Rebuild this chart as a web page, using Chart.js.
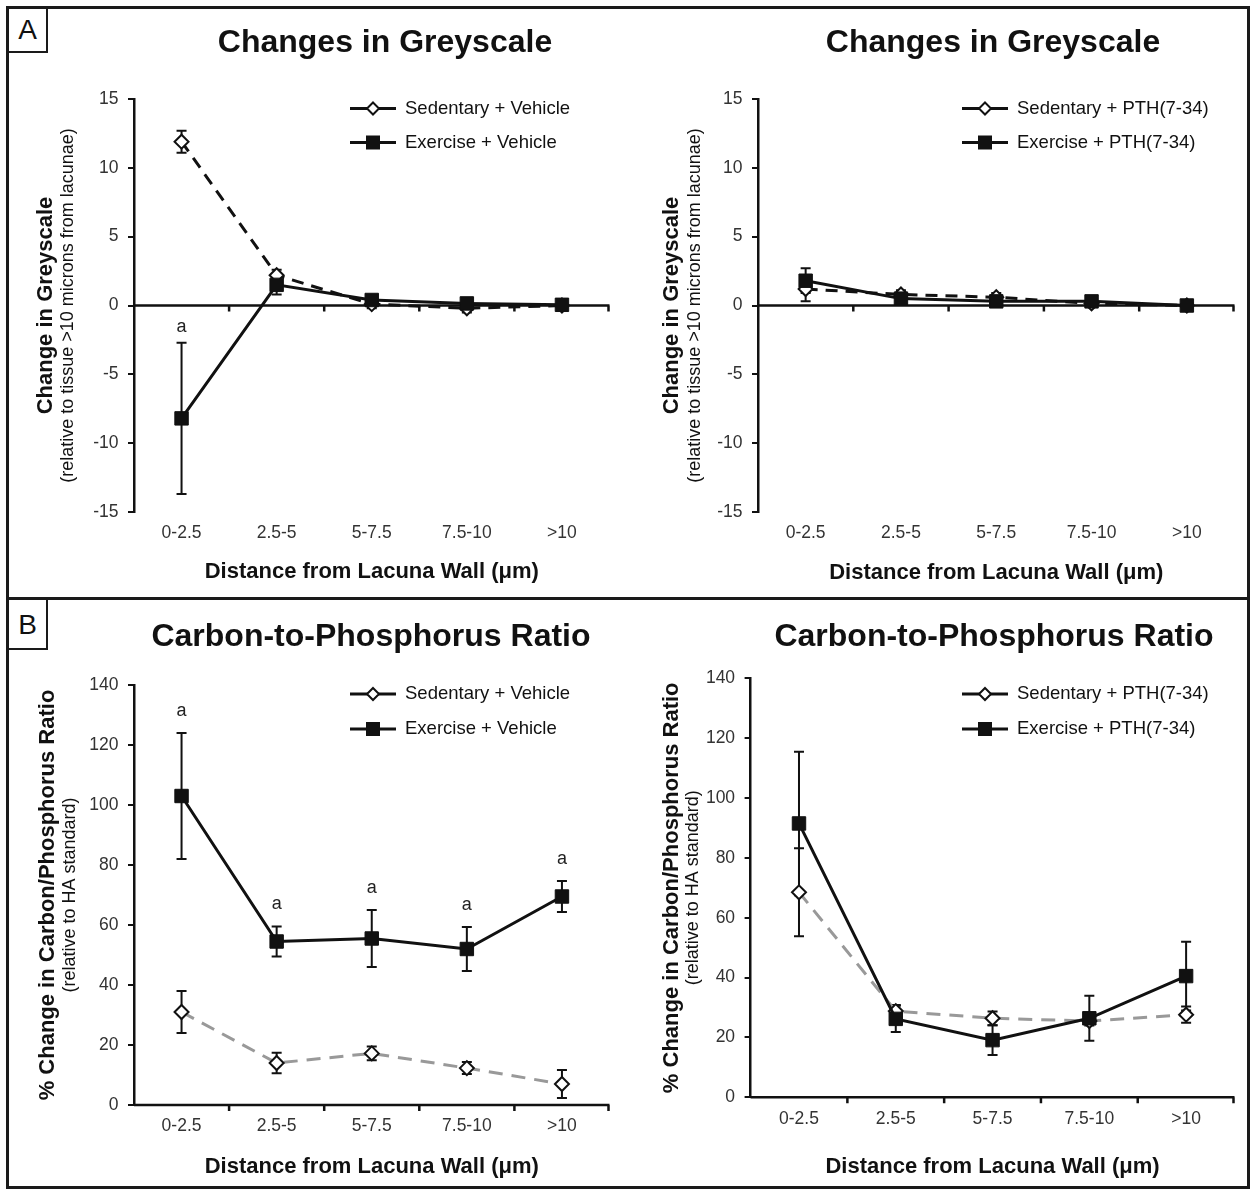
<!DOCTYPE html>
<html>
<head>
<meta charset="utf-8">
<script src="https://cdn.jsdelivr.net/npm/chart.js"></script>
<style>
  body { margin: 0; background: #fff; }
  #figure { position: relative; width: 1253px; height: 1190px; background: #fff; font-family: 'Liberation Sans', Arial, sans-serif; color: #111; }
  .frame { position: absolute; left: 6px; top: 6px; width: 1238px; height: 1177px; border: 3px solid #1a1a1a; }
  .divider { position: absolute; left: 6px; top: 597px; width: 1244px; height: 3px; background: #1a1a1a; }
  .tag { position: absolute; left: 9px; width: 37px; border-right: 2.5px solid #1a1a1a; border-bottom: 2.5px solid #1a1a1a; font-size: 28px; text-align: center; }
  canvas { position: absolute; }
</style>
</head>
<body>
<div id="figure">
  <div class="frame"></div>
  <div class="divider"></div>
  <div class="tag" style="top:9px;height:42px;line-height:42px;">A</div>
  <div class="tag" style="top:600px;height:48px;line-height:50px;">B</div>
  <canvas id="greyVeh" width="610" height="586" style="left:10px;top:10px;"></canvas>
  <canvas id="greyPth" width="620" height="586" style="left:625px;top:10px;"></canvas>
  <canvas id="cpVeh" width="610" height="584" style="left:10px;top:602px;"></canvas>
  <canvas id="cpPth" width="620" height="584" style="left:625px;top:602px;"></canvas>
</div>
<script>
// distance bins (x axis)
var distanceBins = ['0-2.5', '2.5-5', '5-7.5', '7.5-10', '>10'];

var namesVeh = ['Sedentary + Vehicle', 'Exercise + Vehicle'];
var namesPth = ['Sedentary + PTH(7-34)', 'Exercise + PTH(7-34)'];

// A: change in greyscale
var greySedVeh    = [11.9, 2.2, 0.1, -0.2, 0.0];
var greySedVehErr = [0.8, 0.4, 0.3, 0.3, 0.2];
var greyExVeh     = [-8.2, 1.5, 0.4, 0.15, 0.05];
var greyExVehErr  = [5.5, 0.7, 0.3, 0.3, 0.2];
var greyExVehSig  = ['a', '', '', '', ''];

var greySedPth    = [1.2, 0.8, 0.6, 0.15, 0.0];
var greySedPthErr = [0.9, 0.3, 0.3, 0.2, 0.2];
var greyExPth     = [1.8, 0.5, 0.3, 0.3, 0.0];
var greyExPthErr  = [0.9, 0.3, 0.3, 0.3, 0.2];
var greyExPthSig  = ['', '', '', '', ''];

// B: carbon-to-phosphorus ratio
var cpSedVeh    = [31, 14, 17.2, 12.3, 7];
var cpSedVehErr = [7, 3.4, 2.3, 2, 4.7];
var cpExVeh     = [103, 54.5, 55.5, 52, 69.5];
var cpExVehErr  = [21, 5, 9.5, 7.3, 5.2];
var cpExVehSig  = ['a', 'a', 'a', 'a', 'a'];

var cpSedPth    = [68.5, 28.8, 26.4, 25.5, 27.6];
var cpSedPthErr = [14.7, 2, 2.3, 1.5, 2.7];
var cpExPth     = [91.5, 26.2, 19.1, 26.4, 40.5];
var cpExPthErr  = [24, 4.4, 5, 7.5, 11.5];
var cpExPthSig  = ['', '', '', '', ''];

Chart.defaults.font.family = "'Liberation Sans', Arial, sans-serif";
Chart.defaults.color = '#333';

var panelPlugin = {
  id: 'panel',
  beforeDatasetsDraw: function (chart) {
    var ctx = chart.ctx, xs = chart.scales.x, ys = chart.scales.y, area = chart.chartArea;
    var y0 = ys.getPixelForValue(0);
    ctx.save();
    ctx.strokeStyle = '#111';
    ctx.lineWidth = 2.5;
    ctx.beginPath();
    ctx.moveTo(area.left, y0);
    ctx.lineTo(area.right, y0);
    for (var i = 0; i < xs.ticks.length; i++) {
      var bx = i < xs.ticks.length - 1 ? (xs.getPixelForTick(i) + xs.getPixelForTick(i + 1)) / 2 : area.right - 1;
      ctx.moveTo(bx, y0);
      ctx.lineTo(bx, y0 + 6);
    }
    ctx.stroke();

    // error bars
    ctx.lineWidth = 2;
    chart.data.datasets.forEach(function (ds, di) {
      var meta = chart.getDatasetMeta(di);
      ds.data.forEach(function (v, j) {
        var e = ds.errors[j];
        var px = meta.data[j].x;
        var top = ys.getPixelForValue(v + e), bot = ys.getPixelForValue(v - e);
        ctx.beginPath();
        ctx.moveTo(px, top); ctx.lineTo(px, bot);
        ctx.moveTo(px - 5, top); ctx.lineTo(px + 5, top);
        ctx.moveTo(px - 5, bot); ctx.lineTo(px + 5, bot);
        ctx.stroke();
      });
    });
    ctx.restore();
  },
  afterDatasetsDraw: function (chart, args, opts) {
    var ctx = chart.ctx, ys = chart.scales.y;
    ctx.save();
    ctx.fillStyle = '#222';
    ctx.font = "18px 'Liberation Sans', Arial, sans-serif";
    ctx.textAlign = 'center';
    ctx.textBaseline = 'middle';
    chart.data.datasets.forEach(function (ds, di) {
      var meta = chart.getDatasetMeta(di);
      ds.sig.forEach(function (s, j) {
        if (!s) return;
        var top = ys.getPixelForValue(ds.data[j] + ds.errors[j]);
        ctx.fillText(s, meta.data[j].x, top - opts.sigGap);
      });
    });
    ctx.restore();
  },
  afterDraw: function (chart, args, opts) {
    var ctx = chart.ctx;
    ctx.save();
    ctx.fillStyle = '#111';
    ctx.font = "bold 32px 'Liberation Sans', Arial, sans-serif";
    ctx.textAlign = 'center';
    ctx.textBaseline = 'middle';
    ctx.fillText(opts.title, opts.titleX, opts.titleY);

    // legend: line with marker, then name
    ctx.font = "18.5px 'Liberation Sans', Arial, sans-serif";
    ctx.textAlign = 'left';
    chart.data.datasets.forEach(function (ds, i) {
      var lx = opts.legendX, ly = opts.legendY + i * opts.legendGap;
      ctx.strokeStyle = '#111';
      ctx.lineWidth = 3;
      ctx.beginPath();
      ctx.moveTo(lx, ly); ctx.lineTo(lx + 46, ly);
      ctx.stroke();
      var cx = lx + 23;
      if (ds.pointStyle === 'rect') {
        ctx.fillStyle = '#111';
        ctx.fillRect(cx - 7, ly - 7, 14, 14);
      } else {
        ctx.fillStyle = '#fff';
        ctx.lineWidth = 2;
        ctx.beginPath();
        ctx.moveTo(cx, ly - 6); ctx.lineTo(cx + 6, ly); ctx.lineTo(cx, ly + 6); ctx.lineTo(cx - 6, ly);
        ctx.closePath();
        ctx.fill(); ctx.stroke();
      }
      ctx.fillStyle = '#111';
      ctx.fillText(ds.label, lx + 55, ly);
    });
    ctx.restore();
  }
};

function makePanel(id, cfg) {
  return new Chart(document.getElementById(id), {
    type: 'line',
    data: {
      labels: distanceBins,
      datasets: [{
        label: cfg.names[0],
        data: cfg.sed,
        errors: cfg.sedErr,
        sig: ['', '', '', '', ''],
        borderColor: cfg.sedColor,
        borderDash: cfg.sedDash,
        borderWidth: 3,
        pointStyle: 'rectRot',
        pointRadius: 7,
        pointBackgroundColor: '#fff',
        pointBorderColor: '#111',
        pointBorderWidth: 2,
        order: 1
      }, {
        label: cfg.names[1],
        data: cfg.ex,
        errors: cfg.exErr,
        sig: cfg.exSig,
        borderColor: '#111',
        borderWidth: 3,
        pointStyle: 'rect',
        pointRadius: 9.5,
        pointBackgroundColor: '#111',
        pointBorderColor: '#111',
        pointBorderWidth: 1,
        order: 0
      }]
    },
    options: {
      responsive: false,
      animation: false,
      devicePixelRatio: 1,
      locale: 'en-US',
      layout: { padding: { top: cfg.padTop, right: cfg.padRight, left: 0, bottom: 0 } },
      elements: { line: { tension: 0, fill: false } },
      plugins: {
        legend: { display: false },
        tooltip: { enabled: false },
        panel: {
          title: cfg.title, titleX: cfg.titleX, titleY: cfg.titleY,
          legendX: cfg.legendX, legendY: cfg.legendY, legendGap: cfg.legendGap,
          sigGap: cfg.sigGap
        }
      },
      scales: {
        x: {
          type: 'category',
          offset: true,
          grid: { display: false },
          border: { display: false },
          ticks: { color: '#333', font: { size: 17.5 }, padding: 3, maxRotation: 0, autoSkip: false },
          title: { display: true, text: 'Distance from Lacuna Wall (μm)', color: '#111', font: { size: 22, weight: 'bold' }, padding: { top: 0, bottom: cfg.xTitlePad } },
          afterFit: function (s) { s.height = cfg.xHeight; }
        },
        y: {
          min: cfg.yMin,
          max: cfg.yMax,
          ticks: { stepSize: cfg.yStep, color: '#333', font: { size: 17.5 }, padding: 9.5 },
          grid: { drawOnChartArea: false, color: '#111', lineWidth: 2, tickLength: 6 },
          border: { color: '#111', width: 2.5 },
          title: { display: true, text: cfg.ySub, color: '#111', font: { size: 18 }, padding: { top: cfg.ySubPad, bottom: 0 } },
          afterFit: function (s) { s.width = cfg.yInnerW; }
        },
        yOuter: {
          position: 'left',
          weight: 1,
          grid: { display: false },
          border: { display: false },
          ticks: { display: false },
          title: { display: true, text: cfg.yTitle, color: '#111', font: { size: 22, weight: 'bold' }, padding: { top: cfg.yTitlePad, bottom: 0 } },
          afterFit: function (s) { s.width = cfg.yOuterW; }
        }
      }
    },
    plugins: [panelPlugin]
  });
}

document.addEventListener('DOMContentLoaded', function () {
  makePanel('greyVeh', {
    names: namesVeh, sed: greySedVeh, sedErr: greySedVehErr, ex: greyExVeh, exErr: greyExVehErr, exSig: greyExVehSig,
    sedColor: '#111', sedDash: [12, 8],
    yMin: -15, yMax: 15, yStep: 5,
    title: 'Changes in Greyscale', titleX: 375, titleY: 33,
    yTitle: 'Change in Greyscale', ySub: '(relative to tissue >10 microns from lacunae)',
    padTop: 89, padRight: 7, xHeight: 84, xTitlePad: 10.8,
    yOuterW: 47, yTitlePad: 23, yInnerW: 77, ySubPad: 0.2,
    legendX: 340, legendY: 98.5, legendGap: 34, sigGap: 16
  });

  makePanel('greyPth', {
    names: namesPth, sed: greySedPth, sedErr: greySedPthErr, ex: greyExPth, exErr: greyExPthErr, exSig: greyExPthSig,
    sedColor: '#111', sedDash: [12, 8],
    yMin: -15, yMax: 15, yStep: 5,
    title: 'Changes in Greyscale', titleX: 368, titleY: 33,
    yTitle: 'Change in Greyscale', ySub: '(relative to tissue >10 microns from lacunae)',
    padTop: 89, padRight: 6, xHeight: 84, xTitlePad: 10.1,
    yOuterW: 58, yTitlePad: 33.5, yInnerW: 75, ySubPad: 1.2,
    legendX: 337, legendY: 98.5, legendGap: 34, sigGap: 16
  });

  makePanel('cpVeh', {
    names: namesVeh, sed: cpSedVeh, sedErr: cpSedVehErr, ex: cpExVeh, exErr: cpExVehErr, exSig: cpExVehSig,
    sedColor: '#999', sedDash: [14, 9],
    yMin: 0, yMax: 140, yStep: 20,
    title: 'Carbon-to-Phosphorus Ratio', titleX: 361, titleY: 35,
    yTitle: '% Change in Carbon/Phosphorus Ratio', ySub: '(relative to HA standard)',
    padTop: 83, padRight: 5.4, xHeight: 81, xTitlePad: 6.1,
    yOuterW: 47, yTitlePad: 24.4, yInnerW: 77, ySubPad: 2.6,
    legendX: 340, legendY: 92, legendGap: 35, sigGap: 22
  });

  makePanel('cpPth', {
    names: namesPth, sed: cpSedPth, sedErr: cpSedPthErr, ex: cpExPth, exErr: cpExPthErr, exSig: cpExPthSig,
    sedColor: '#999', sedDash: [14, 9],
    yMin: 0, yMax: 140, yStep: 20,
    title: 'Carbon-to-Phosphorus Ratio', titleX: 369, titleY: 35,
    yTitle: '% Change in Carbon/Phosphorus Ratio', ySub: '(relative to HA standard)',
    padTop: 76.3, padRight: 4.6, xHeight: 88.7, xTitlePad: 6.1,
    yOuterW: 57, yTitlePad: 33.5, yInnerW: 68.6, ySubPad: 0.2,
    legendX: 337, legendY: 92, legendGap: 35, sigGap: 22
  });
});
</script>
</body>
</html>
